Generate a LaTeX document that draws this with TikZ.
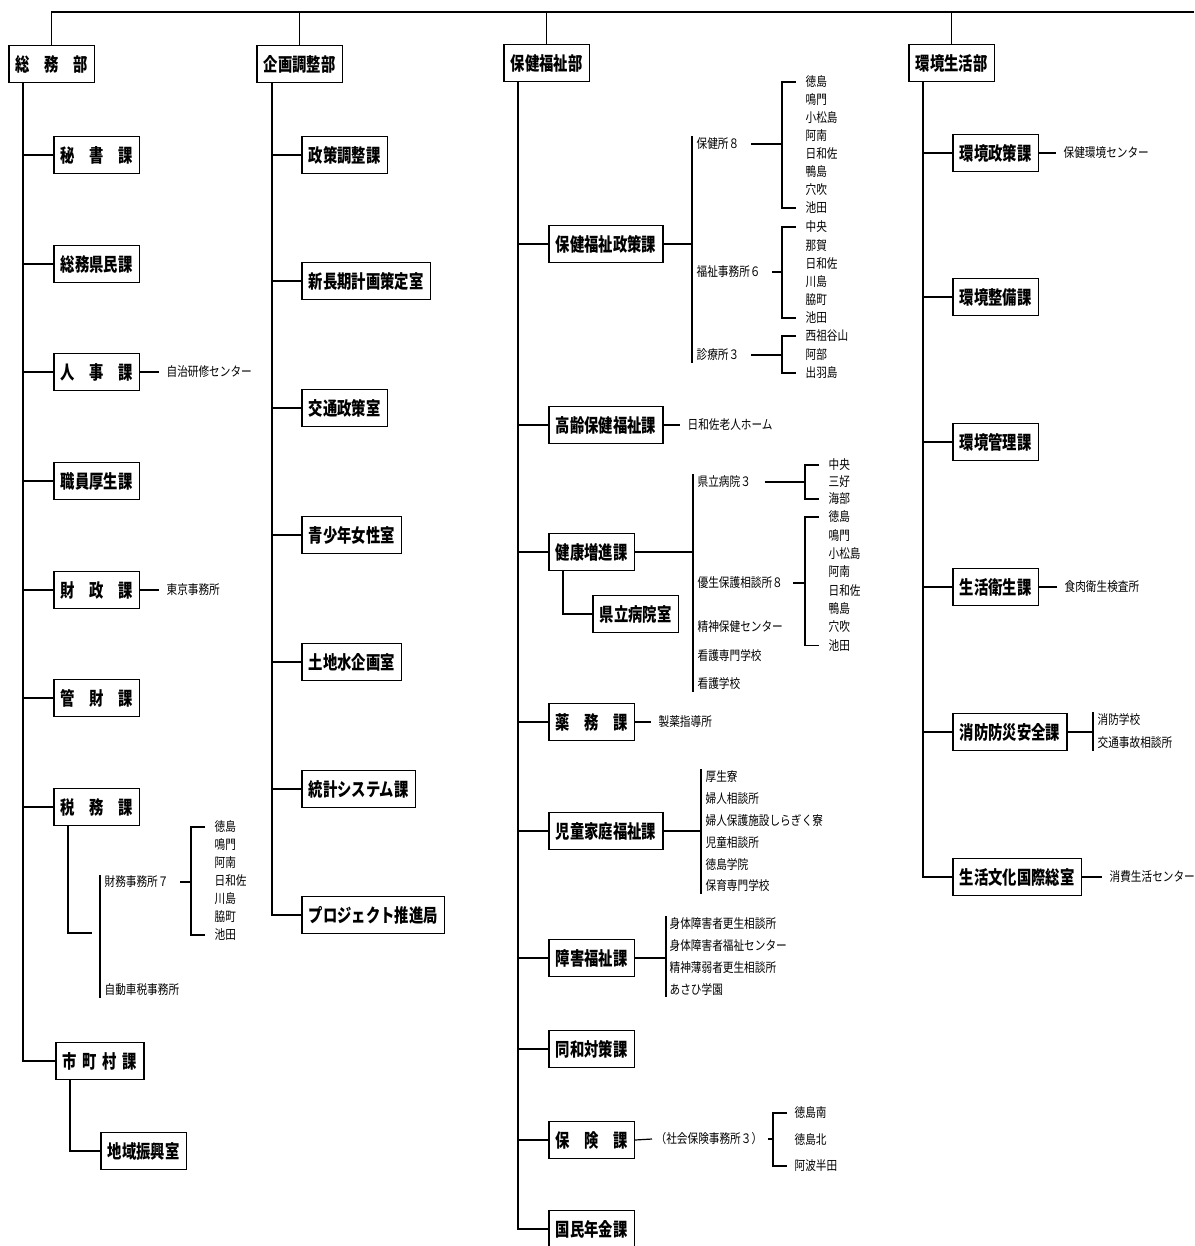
\documentclass[tikz,border=0pt]{standalone}
\usepackage{fontspec}
\setmainfont{Noto Sans CJK JP}
\newfontfamily\kafamily[FakeStretch=0.77]{Noto Sans CJK JP}
\newfontfamily\shofamily[FakeStretch=0.82]{Noto Sans CJK JP}
\tikzset{
  ka/.style={draw, line width=0.75pt, anchor=west, minimum height=18.5pt, inner xsep=3.5pt, inner ysep=0pt,
    font=\kafamily\bfseries\fontsize{9.3}{10}\selectfont},
  sho/.style={anchor=west, inner sep=0.5pt, font=\shofamily\fontsize{6.5}{7}\selectfont}
}

\begin{document}
\begin{tikzpicture}[x=0.5pt, y=-0.5pt, line width=0.6pt]
\useasboundingbox (0,0) rectangle (1194,1246);

% departments
\node[ka] (somu) at (8,64) {総　務　部};
\node[ka] (kikaku) at (256,64) {企画調整部};
\node[ka] (hokenbu) at (503,63) {保健福祉部};
\node[ka] (kankyo) at (908,63) {環境生活部};
\coordinate (top) at (1194,12);
\draw (somu.north) |- (top);
\foreach \n in {kikaku,hokenbu,kankyo} \draw (\n.north) -- (\n.north |- top);

% 総務部
\foreach \n/\t/\y in {hisho/秘　書　課/155, kenmin/総務県民課/264, jinji/人　事　課/372, kosei/職員厚生課/481,
    zaisei/財　政　課/590, kanzai/管　財　課/698, zeimu/税　務　課/807}
  \node[ka] (\n) at (53,\y) {\t};
\node[ka] (shichoson) at (55,1061) {市\hspace{0.3em}町\hspace{0.3em}村\hspace{0.3em}課};
\node[ka] (shinko) at (100,1151) {地域振興室};
\coordinate (t1) at ([xshift=7.5pt]somu.south west);
\draw (t1) |- (shichoson.west);
\foreach \n in {hisho,kenmin,jinji,kosei,zaisei,kanzai,zeimu} \draw (\n.west) -- (\n.west -| t1);
\draw ([xshift=7.5pt]shichoson.south west) |- (shinko.west);
\node[sho] (jichi) at (165,372) {自治研修センター};
\node[sho] (tokyo) at (165,590) {東京事務所};
\draw (jinji.east) -- ([xshift=-3pt]jichi.west);
\draw (zaisei.east) -- ([xshift=-3pt]tokyo.west);

\node[sho] (zaimu) at (103,882) {財務事務所７};
\node[sho] (jidosha) at (103,990) {自動車税事務所};
\draw ([xshift=-1.5pt]zaimu.west) ++(0,-7) -- ([xshift=-1.5pt]jidosha.south west);
\coordinate (zc) at (92,933);
\draw ([xshift=7.5pt]zeimu.south west) |- (zc);
\foreach \t [count=\i from 0] in {徳島,鳴門,阿南,日和佐,川島,脇町,池田}
  \node[sho] (zm\i) at (213,827+18*\i) {\t};
\draw ([xshift=-4pt]zm0.west) -- ++(-14,0) coordinate (zmb) |- ([xshift=-4pt]zm6.west);
\draw ([xshift=5pt]zaimu.east) -- (zaimu.east -| zmb);

% 企画調整部
\foreach \n/\t/\y in {seisaku/政策調整課/155, choki/新長期計画策定室/281, kotsu/交通政策室/408, seishonen/青少年女性室/535,
    tochi/土地水企画室/662, tokei/統計システム課/789, project/プロジェクト推進局/915}
  \node[ka] (\n) at (301,\y) {\t};
\coordinate (t2) at ([xshift=8pt]kikaku.south west);
\draw (t2) |- (project.west);
\foreach \n in {seisaku,choki,kotsu,seishonen,tochi,tokei} \draw (\n.west) -- (\n.west -| t2);

% 保健福祉部
\foreach \n/\t/\y in {seisakuka/保健福祉政策課/244, korei/高齢保健福祉課/425, kenko/健康増進課/552, yakumu/薬　務　課/722,
    jido/児童家庭福祉課/831, shogai/障害福祉課/958, dowa/同和対策課/1049, hoken/保　険　課/1140, nenkin/国民年金課/1229}
  \node[ka] (\n) at (548,\y) {\t};
\node[ka] (byoin) at (592,614) {県立病院室};
\coordinate (t3) at ([xshift=7.5pt]hokenbu.south west);
\draw (t3) |- (nenkin.west);
\foreach \n in {seisakuka,korei,kenko,yakumu,jido,shogai,dowa,hoken} \draw (\n.west) -- (\n.west -| t3);
\draw ([xshift=7.5pt]kenko.south west) |- (byoin.west);

\node[sho] (hokensho) at (695,144) {保健所８};
\node[sho] (fukushi) at (695,272) {福祉事務所６};
\node[sho] (shinryo) at (695,355) {診療所３};
\draw ([xshift=-1.5pt]hokensho.north west) coordinate (pb) -- ([xshift=-1.5pt]shinryo.south west);
\draw (seisakuka.east) -- (seisakuka.east -| pb);
\foreach \t [count=\i from 0] in {徳島,鳴門,小松島,阿南,日和佐,鴨島,穴吹,池田}
  \node[sho] (ho\i) at (804,82+18*\i) {\t};
\draw ([xshift=-4pt]ho0.west) -- ++(-14,0) coordinate (hob) |- ([xshift=-4pt]ho7.west);
\draw ([xshift=5pt]hokensho.east) -- (hokensho.east -| hob);
\foreach \t [count=\i from 0] in {中央,那賀,日和佐,川島,脇町,池田}
  \node[sho] (fk\i) at (804,227+18.2*\i) {\t};
\draw ([xshift=-4pt]fk0.west) -- ++(-14,0) coordinate (fkb) |- ([xshift=-4pt]fk5.west);
\draw ([xshift=5pt]fukushi.east) -- (fukushi.east -| fkb);
\foreach \t [count=\i from 0] in {西祖谷山,阿部,出羽島}
  \node[sho] (sr\i) at (804,336+18.5*\i) {\t};
\draw ([xshift=-4pt]sr0.west) -- ++(-14,0) coordinate (srb) |- ([xshift=-4pt]sr2.west);
\draw ([xshift=5pt]shinryo.east) -- (shinryo.east -| srb);

\node[sho] (rojin) at (686,425) {日和佐老人ホーム};
\draw (korei.east) -- ([xshift=-3pt]rojin.west);

\node[sho] (kenritsu) at (696,482) {県立病院３};
\node[sho] (yusei) at (696,583) {優生保護相談所８};
\node[sho] (seishin) at (696,627) {精神保健センター};
\node[sho] (kango) at (696,656) {看護専門学校};
\node[sho] (kangogakko) at (696,684) {看護学校};
\draw ([xshift=-1.5pt]kenritsu.north west) coordinate (kb) -- ([xshift=-1.5pt]kangogakko.south west);
\draw (kenko.east) -- (kenko.east -| kb);
\foreach \t [count=\i from 0] in {中央,三好,海部}
  \node[sho] (kr\i) at (827,465+17*\i) {\t};
\draw ([xshift=-4pt]kr0.west) -- ++(-14,0) coordinate (krb) |- ([xshift=-4pt]kr2.west);
\draw ([xshift=6pt]kenritsu.east) -- (kenritsu.east -| krb);
\foreach \t [count=\i from 0] in {徳島,鳴門,小松島,阿南,日和佐,鴨島,穴吹,池田}
  \node[sho] (ys\i) at (827,517+18.3*\i) {\t};
\draw ([xshift=-4pt]ys0.west) -- ++(-14,0) coordinate (ysb) |- ([xshift=-4pt]ys7.west);
\draw ([xshift=4.5pt]yusei.east) -- (yusei.east -| ysb);

\node[sho] (seiyaku) at (657,722) {製薬指導所};
\draw (yakumu.east) -- ([xshift=-3pt]seiyaku.west);

\foreach \t [count=\i from 0] in {厚生寮,婦人相談所,婦人保護施設しらぎく寮,児童相談所,徳島学院,保育専門学校}
  \node[sho] (jd\i) at (704,777+21.8*\i) {\t};
\draw ([xshift=-1.5pt]jd0.north west) coordinate (jdb) -- ([xshift=-1.5pt]jd5.south west);
\draw (jido.east) -- (jido.east -| jdb);

\foreach \t [count=\i from 0] in {身体障害者更生相談所,身体障害者福祉センター,精神薄弱者更生相談所,あさひ学園}
  \node[sho] (sg\i) at (668,924+21.7*\i) {\t};
\draw ([xshift=-1pt]sg0.north west) coordinate (sgb) -- ([xshift=-1pt]sg3.south west);
\draw (shogai.east) -- (shogai.east -| sgb);

\node[sho] (shaho) at (654,1139) {（社会保険事務所３）};
\draw (hoken.east) -- ([xshift=-1pt]shaho.west);
\foreach \t [count=\i from 0] in {徳島南,徳島北,阿波半田}
  \node[sho] (hk\i) at (793,1113+26.5*\i) {\t};
\draw ([xshift=-3pt]hk0.west) -- ++(-14,0) coordinate (hkb) |- ([xshift=-3pt]hk2.west);
\draw ([xshift=2pt]shaho.east) -- (shaho.east -| hkb);

% 環境生活部
\foreach \n/\t/\y in {kseisaku/環境政策課/153, kseibi/環境整備課/297, kkanri/環境管理課/442, eisei/生活衛生課/587,
    shobo/消防防災安全課/732, bunka/生活文化国際総室/877}
  \node[ka] (\n) at (952,\y) {\t};
\coordinate (t4) at ([xshift=7.5pt]kankyo.south west);
\draw (t4) |- (bunka.west);
\foreach \n in {kseisaku,kseibi,kkanri,eisei,shobo} \draw (\n.west) -- (\n.west -| t4);
\node[sho] (hkcenter) at (1062,153) {保健環境センター};
\node[sho] (shokuniku) at (1063,587) {食肉衛生検査所};
\node[sho] (shohi) at (1108,877) {消費生活センター};
\draw (kseisaku.east) -- ([xshift=-3pt]hkcenter.west);
\draw (eisei.east) -- ([xshift=-3pt]shokuniku.west);
\draw (bunka.east) -- ([xshift=-3pt]shohi.west);
\node[sho] (gakko) at (1096,720) {消防学校};
\node[sho] (jiko) at (1096,743) {交通事故相談所};
\draw ([xshift=-1.5pt]gakko.north west) coordinate (sbb) -- ([xshift=-1.5pt]jiko.south west);
\draw (shobo.east) -- (shobo.east -| sbb);
\end{tikzpicture}
\end{document}
